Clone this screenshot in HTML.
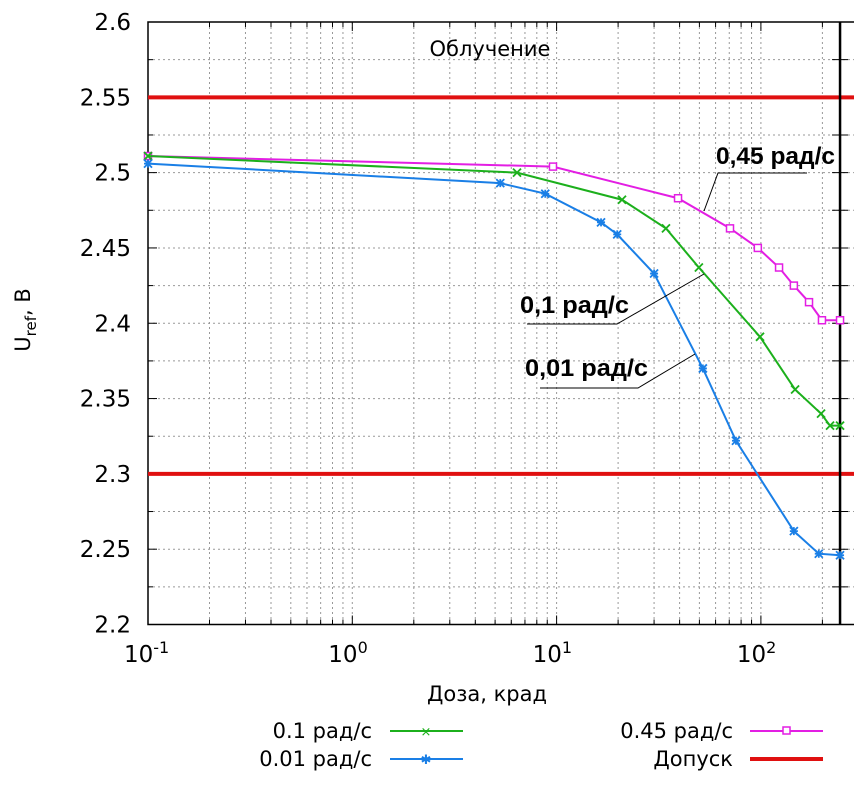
<!DOCTYPE html>
<html><head><meta charset="utf-8"><style>
html,body{margin:0;padding:0;background:#fff}
svg{display:block;font-family:"DejaVu Sans","Liberation Sans",sans-serif}
</style></head><body>
<svg id="chart" width="854" height="790" viewBox="0 0 854 790">
<g id="grid"></g>
<g id="axes"></g>
<g id="series"></g>
<text x="490" y="56" font-size="21" text-anchor="middle">Облучение</text>
<text transform="translate(30,320) rotate(-90)" font-size="21" text-anchor="middle">U<tspan font-size="15" dy="6">ref</tspan><tspan dy="-6">, В</tspan></text>
<text x="487" y="701" font-size="21" text-anchor="middle">Доза, крад</text>
<g>
<text x="716" y="164" font-size="24" font-weight="bold" font-family="Liberation Sans, sans-serif" textLength="119" lengthAdjust="spacingAndGlyphs">0,45 рад/с</text>
<polyline points="807,173 718,173 704,211" fill="none" stroke="#000" stroke-width="1"/></g>
<g>
<text x="520" y="313" font-size="24" font-weight="bold" font-family="Liberation Sans, sans-serif" textLength="109" lengthAdjust="spacingAndGlyphs">0,1 рад/с</text>
<polyline points="527,324 617,324 704,274" fill="none" stroke="#000" stroke-width="1"/></g>
<g>
<text x="525" y="376" font-size="24" font-weight="bold" font-family="Liberation Sans, sans-serif" textLength="123" lengthAdjust="spacingAndGlyphs">0,01 рад/с</text>
<polyline points="540,388 638,388 695,354" fill="none" stroke="#000" stroke-width="1"/></g>
<g id="legend">
<g><text x="372" y="738" font-size="21" text-anchor="end">0.1 рад/с</text><line x1="390" y1="731" x2="463" y2="731" stroke="#1cb01c" stroke-width="2"/><text x="426" y="736" font-size="13" fill="#1cb01c" text-anchor="middle">×</text></g>
<g><text x="372" y="766" font-size="21" text-anchor="end">0.01 рад/с</text><line x1="390" y1="759" x2="463" y2="759" stroke="#1a7fe6" stroke-width="2"/><text x="426" y="764" font-size="13" fill="#1a7fe6" text-anchor="middle">✱</text></g>
<g><text x="733" y="738" font-size="21" text-anchor="end">0.45 рад/с</text><line x1="750" y1="731" x2="823" y2="731" stroke="#e31ee3" stroke-width="2"/><rect x="783" y="727" width="7" height="7" fill="#fff" stroke="#e31ee3" stroke-width="1.5"/></g>
<g><text x="733" y="766" font-size="21" text-anchor="end">Допуск</text><line x1="750" y1="759" x2="823" y2="759" stroke="#e01010" stroke-width="4"/></g>
</g>
</svg>
<script>
const doses01=[0.1,6.4,20.9,34.3,49.7,99,147,197,218,244];
const vals01=[2.511,2.500,2.482,2.463,2.437,2.391,2.356,2.340,2.332,2.332];
const doses001=[0.1,5.3,8.8,16.5,19.8,30,52,75.5,145,192,244];
const vals001=[2.506,2.493,2.486,2.467,2.459,2.433,2.370,2.322,2.262,2.247,2.246];
const doses045=[0.1,9.6,39.3,70.6,96.6,122.7,145,172,199,244];
const vals045=[2.511,2.504,2.483,2.463,2.450,2.437,2.425,2.414,2.402,2.402];
const limits=[2.55,2.30];
const yTicks=[2.2,2.25,2.3,2.35,2.4,2.45,2.5,2.55,2.6];
const xDecades=[-1,0,1,2];

const NS="http://www.w3.org/2000/svg";
const L=148,T=22,B=624.5,R=854,xmaxLine=244;
const X=v=>L+(Math.log10(v)+1)*204.3;
const Y=v=>B-(v-2.2)/0.4*(B-T);
function mk(tag,at,parent){const e=document.createElementNS(NS,tag);for(const k in at)e.setAttribute(k,at[k]);parent.appendChild(e);return e;}
const grid=document.getElementById('grid'),axes=document.getElementById('axes'),series=document.getElementById('series');
for(let i=1;i<16;i++){const v=2.2+i*0.025;const g=mk('line',{x1:L,x2:R,y1:Y(v),y2:Y(v),stroke:'#999','stroke-dasharray':'2,3','stroke-width':1},grid);


const t=mk('line',{x1:L,x2:L+(i%2==0?9:5),y1:Y(v),y2:Y(v),stroke:'#000'},axes);


const t2=mk('line',{x1:X(xmaxLine)-8,x2:X(xmaxLine)+8,y1:Y(v),y2:Y(v),stroke:'#000'},axes);

}
for(let d=-1;d<=2;d++){for(let m=1;m<10;m++){const v=m*Math.pow(10,d);const x=X(v);if(x>R||x<=L)continue;
const g=mk('line',{x1:x,x2:x,y1:T,y2:B,stroke:'#999','stroke-dasharray':'2,3','stroke-width':1},grid);


const len=m==1?9:5;
const a=mk('line',{x1:x,x2:x,y1:B,y2:B-len,stroke:'#000'},axes);


const b=mk('line',{x1:x,x2:x,y1:T,y2:T+len,stroke:'#000'},axes);

}}
const fr=mk('polyline',{points:`${R},${T} ${L},${T} ${L},${B} ${R},${B}`,fill:'none',stroke:'#000','stroke-width':1.5},axes);


yTicks.forEach(v=>{const t=mk('text',{x:L-17,y:Y(v)+8,'font-size':23,'text-anchor':'end'},axes);t.textContent=String(v);

});
xDecades.forEach(d=>{const t=mk('text',{x:X(Math.pow(10,d))-24,y:662,'font-size':23},axes);t.textContent='10';
const s=mk('tspan',{dy:-9,'font-size':16},t);s.textContent=String(d);

});
limits.forEach(v=>{const l=mk('line',{x1:L,x2:R,y1:Y(v),y2:Y(v),stroke:'#e01010','stroke-width':4},series);

});
const vl=mk('line',{x1:X(xmaxLine),x2:X(xmaxLine),y1:T,y2:B,stroke:'#000','stroke-width':2.5},series);


function drawSeries(xs,ys,color,marker,name){
 const g=mk('g',{},series);
 
 
 const p=mk('polyline',{points:xs.map((x,i)=>X(x)+','+Y(ys[i])).join(' '),fill:'none',stroke:color,'stroke-width':2},g);
 
 
 xs.forEach((x,i)=>{const cx=X(x),cy=Y(ys[i]);let m;
  if(marker==='sq'){m=mk('rect',{x:cx-3.5,y:cy-3.5,width:7,height:7,fill:'#fff',stroke:color,'stroke-width':1.5},g);}
  else{m=mk('path',{d:`M${cx-4},${cy-4}L${cx+4},${cy+4}M${cx-4},${cy+4}L${cx+4},${cy-4}`+(marker==='star'?`M${cx-4},${cy}L${cx+4},${cy}M${cx},${cy-4}L${cx},${cy+4}`:''),stroke:color,'stroke-width':1.8},g);}
  
  });
}
drawSeries(doses045,vals045,'#e31ee3','sq','series-045');
drawSeries(doses01,vals01,'#1cb01c','x','series-01');
drawSeries(doses001,vals001,'#1a7fe6','star','series-001');
</script>
</body></html>
